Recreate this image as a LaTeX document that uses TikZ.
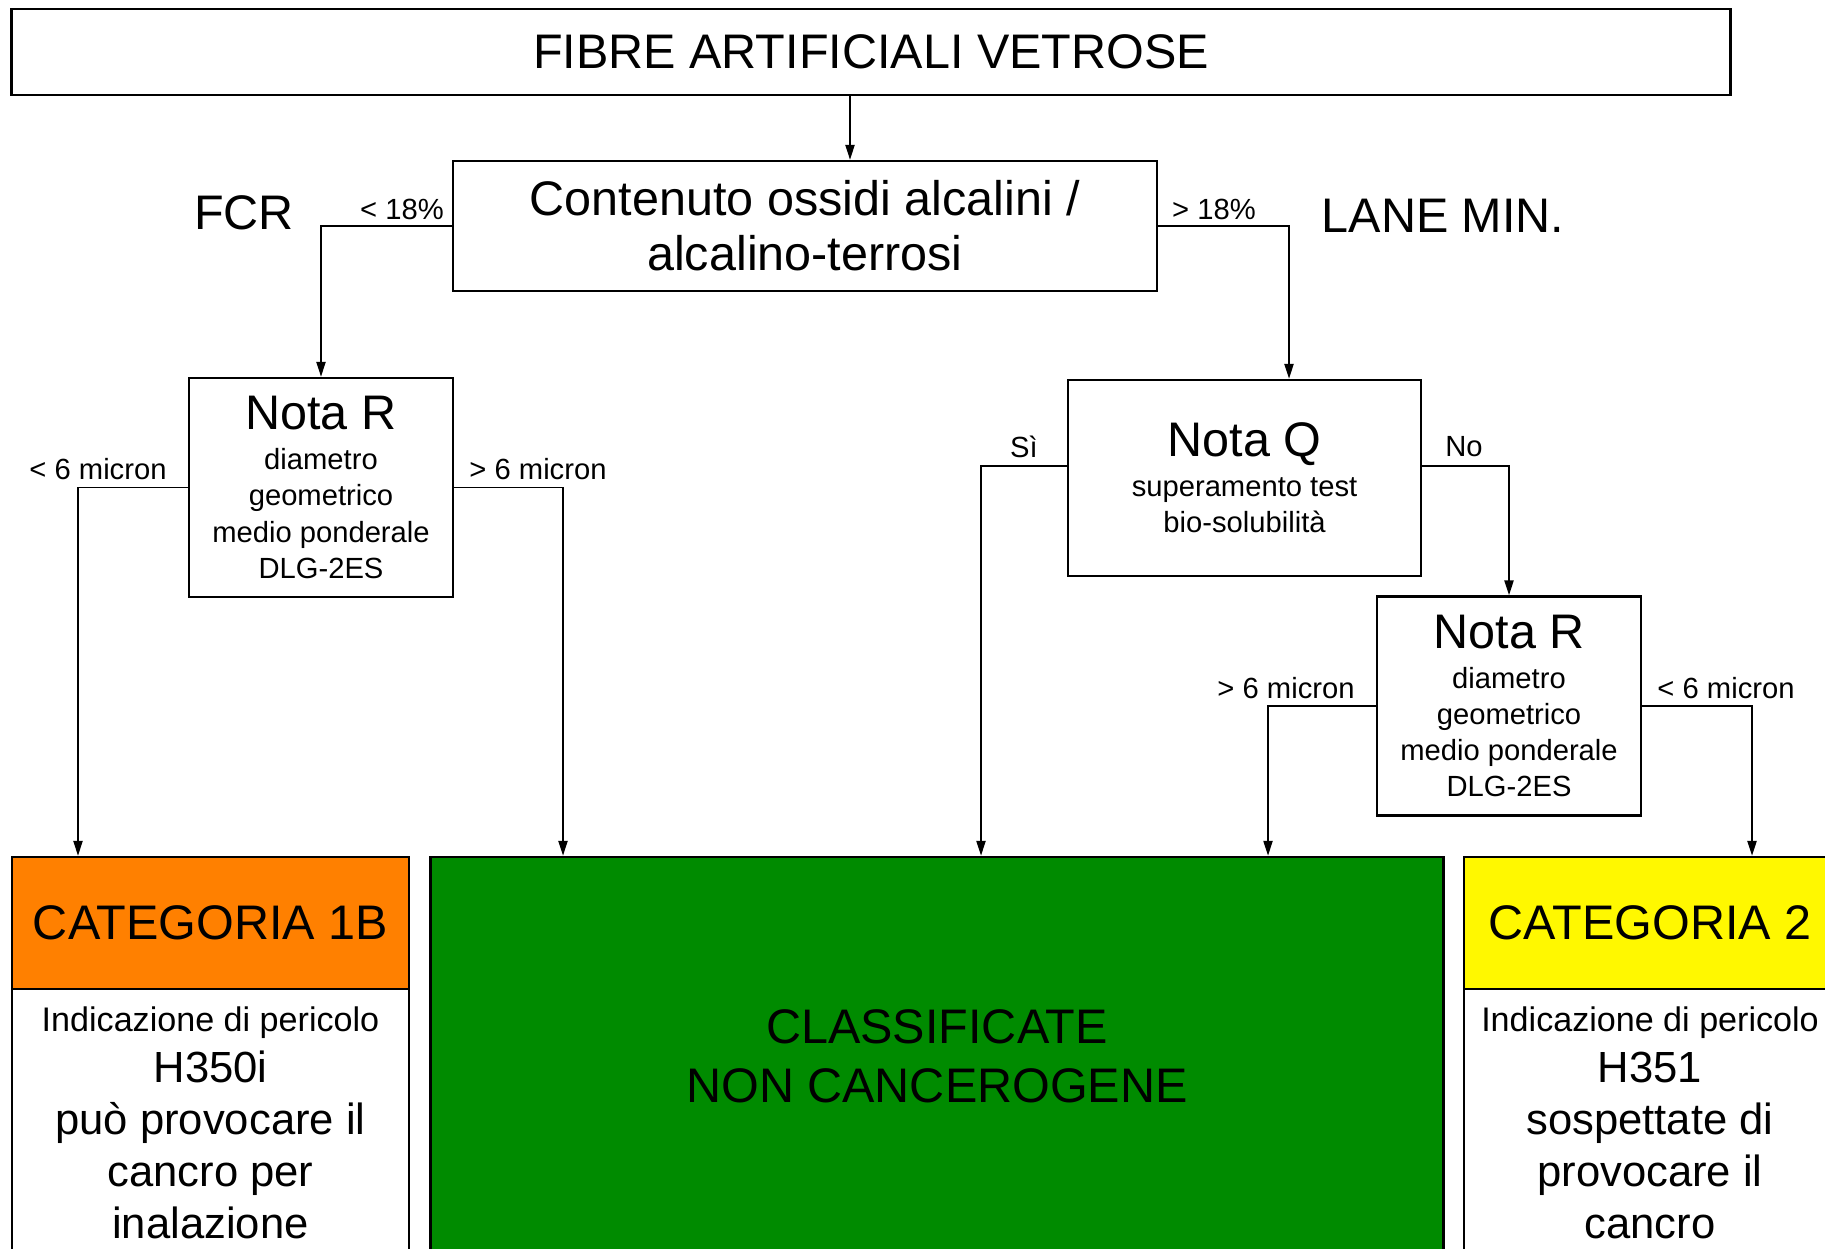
\documentclass[tikz,border=0pt]{standalone}
\usepackage{fontspec}
\setmainfont{Liberation Sans}
\usepackage{xcolor}
\usepackage{tikz}
\usetikzlibrary{positioning, arrows.meta, calc}
\definecolor{catorange}{HTML}{FF8000}
\definecolor{catgreen}{HTML}{008B00}
\definecolor{catyellow}{HTML}{FFF800}
\newcommand{\bigsz}{\fontsize{13.8}{15.6}\selectfont}
\newcommand{\smlsz}{\fontsize{8.3}{10.3}\selectfont}
\newcommand{\midsz}{\fontsize{12.4}{14.7}\selectfont}
\newcommand{\indsz}{\fontsize{9.7}{14.7}\selectfont}

\begin{document}
\begin{tikzpicture}[
  x=0.01cm, y=-0.01cm,
  box/.style={draw=black, line width=0.7pt, inner sep=0pt, align=center,
              font=\bigsz},
  nota/.style={box, minimum width=2.64cm, minimum height=2.19cm, font=\smlsz},
  head/.style={box, minimum height=1.32cm},
  body/.style={box, fill=white, minimum height=2.67cm, font=\midsz},
  arr/.style={-{Triangle[length=4.2pt, width=2.6pt]}, line width=0.45pt},
  lbl/.style={font=\smlsz, inner sep=0pt}
]
\useasboundingbox (0,0) rectangle (1825,1248);
\clip (0,0) rectangle (1825,1248);
% Top boxes
\node[box, minimum width=17.18cm, minimum height=0.86cm] (top) at (871,52)
  {FIBRE ARTIFICIALI VETROSE};
\node[box, minimum width=7.04cm, minimum height=1.30cm] (cont) at (805,226)
  {Contenuto ossidi alcalini /\\alcalino-terrosi};
% Side labels
\node[font=\bigsz, inner sep=0pt] (fcr) at (244,213) {FCR};
\node[font=\bigsz, inner sep=0pt] (lane) at (1443,216) {LANE MIN.};
\node[lbl] (lblLow) at (402,209) {< 18\%};
\node[lbl] (lblHigh) at (1214,209) {> 18\%};
% Notes
\node[nota] (notaR) at (321,487.5)
  {{\bigsz Nota R}\\[1pt] diametro\\ geometrico\\ medio ponderale\\ DLG-2ES};
\node[nota, minimum width=3.53cm, minimum height=1.96cm] (notaQ) at (1244.5,478)
  {{\bigsz Nota Q}\\[1pt] superamento test\\ bio-solubilità};
\node[nota] (notaRb) at (1509,706)
  {{\bigsz Nota R}\\[1pt] diametro\\ geometrico\\ medio ponderale\\ DLG-2ES};
% Branch labels
\node[lbl] (lblR1a) at (98,469) {< 6 micron};
\node[lbl] (lblR1b) at (538,469) {> 6 micron};
\node[lbl] (lblSi) at (1024,447) {Sì};
\node[lbl] (lblNo) at (1464,447) {No};
\node[lbl] (lblR2a) at (1286,688) {> 6 micron};
\node[lbl] (lblR2b) at (1726,688) {< 6 micron};
% Categories
\node[head, fill=catorange, minimum width=3.97cm] (cat1B) at (210.5,923)
  {CATEGORIA 1B};
\node[body, minimum width=3.97cm] (cat1Bbody) at (210.5,1122.5)
  {{\indsz Indicazione di pericolo}\\ H350i\\ può provocare il\\ cancro per\\ inalazione};
\node[box, fill=catgreen, minimum width=10.12cm, minimum height=3.99cm] (nonCanc)
  at (937,1056.5) {CLASSIFICATE\\[1.2pt] NON CANCEROGENE};
\node[head, fill=catyellow, minimum width=3.72cm] (cat2) at (1650,923)
  {CATEGORIA 2};
\node[body, minimum width=3.72cm] (cat2body) at (1650,1122.5)
  {{\indsz Indicazione di pericolo}\\ H351\\ sospettate di\\ provocare il\\ cancro};
% Drop lines
\coordinate (dTop) at (850,0);
\coordinate (dLane) at (1289,0);
\coordinate (dR1a) at (78,0);
\coordinate (dR1b) at (563,0);
\coordinate (dSi) at (981,0);
\coordinate (dR2a) at (1268,0);
\coordinate (dR2b) at (1752,0);
\draw[arr] (top.south -| dTop) -- (cont.north -| dTop);
\draw[arr] (cont.west) -| (notaR.north);
\draw[arr] (cont.east) -| (notaQ.north -| dLane);
\draw[arr] (notaR.west) -| (cat1B.north -| dR1a);
\draw[arr] (notaR.east) -| (nonCanc.north -| dR1b);
\draw[arr] ($(notaQ.west)+(0,-12)$) -| (nonCanc.north -| dSi);
\draw[arr] ($(notaQ.east)+(0,-12)$) -| (notaRb.north);
\draw[arr] (notaRb.west) -| (nonCanc.north -| dR2a);
\draw[arr] (notaRb.east) -| (cat2.north -| dR2b);
\end{tikzpicture}
\end{document}
